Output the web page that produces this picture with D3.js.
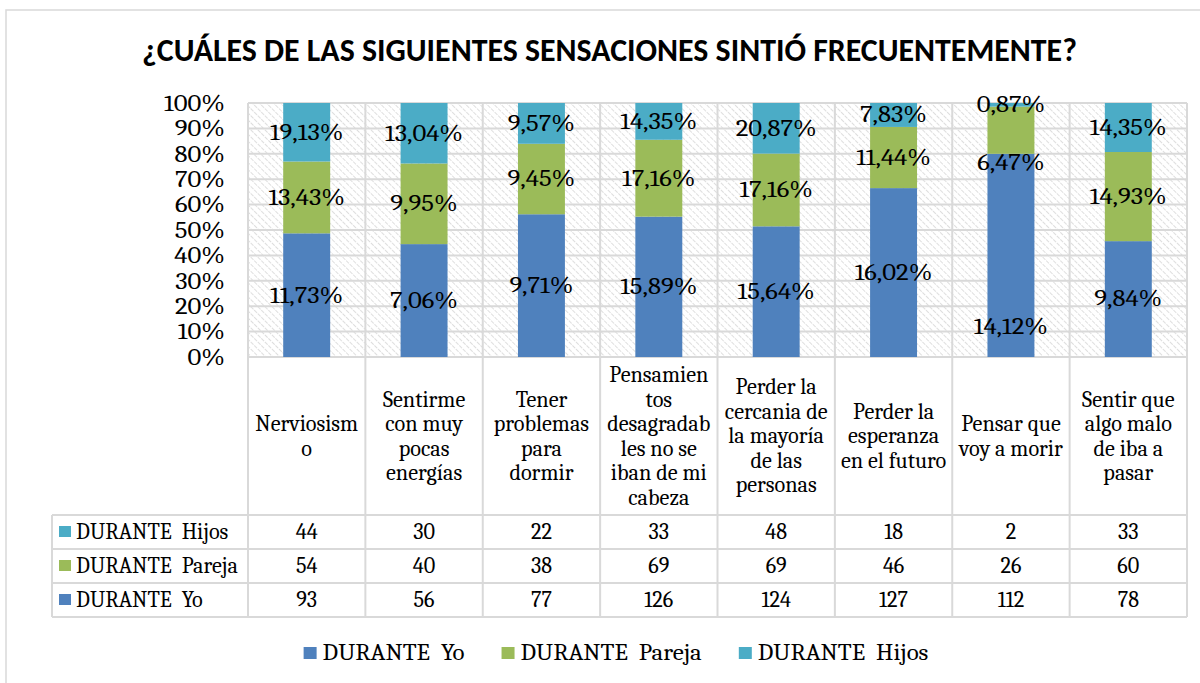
<!DOCTYPE html>
<html>
<head>
<meta charset="utf-8">
<script src="https://cdn.jsdelivr.net/npm/d3@7"></script>
<style>
  html, body { margin: 0; padding: 0; background: #fff; }
  svg { display: block; }
</style>
</head>
<body>
<svg id="chart" width="1200" height="683"></svg>
<script>
// ---------------- DATA ----------------
const title = "¿CUÁLES DE LAS SIGUIENTES SENSACIONES SINTIÓ FRECUENTEMENTE?";
const categories = [
  "Nerviosismo",
  "Sentirme con muy pocas energías",
  "Tener problemas para dormir",
  "Pensamientos desagradables no se iban de mi cabeza",
  "Perder la cercania de la mayoría de las personas",
  "Perder la esperanza en el futuro",
  "Pensar que voy a morir",
  "Sentir que algo malo de iba a pasar"
];
const categoryLines = [
  ["Nerviosism", "o"],
  ["Sentirme", "con muy", "pocas", "energías"],
  ["Tener", "problemas", "para", "dormir"],
  ["Pensamien", "tos", "desagradab", "les no se", "iban de mi", "cabeza"],
  ["Perder la", "cercania de", "la mayoría", "de las", "personas"],
  ["Perder la", "esperanza", "en el futuro"],
  ["Pensar que", "voy a morir"],
  ["Sentir que", "algo malo", "de iba a", "pasar"]
];
const seriesKeys = ["yo", "pareja", "hijos"];
const seriesNames = ["DURANTE  Yo", "DURANTE  Pareja", "DURANTE  Hijos"];
const yoValues     = [93, 56, 77, 126, 124, 127, 112, 78];
const parejaValues = [54, 40, 38, 69, 69, 46, 26, 60];
const hijosValues  = [44, 30, 22, 33, 48, 18, 2, 33];
const yoLabels     = ["11,73%", "7,06%", "9,71%", "15,89%", "15,64%", "16,02%", "14,12%", "9,84%"];
const parejaLabels = ["13,43%", "9,95%", "9,45%", "17,16%", "17,16%", "11,44%", "6,47%", "14,93%"];
const hijosLabels  = ["19,13%", "13,04%", "9,57%", "14,35%", "20,87%", "7,83%", "0,87%", "14,35%"];
const yTicks = [0, 0.1, 0.2, 0.3, 0.4, 0.5, 0.6, 0.7, 0.8, 0.9, 1];

// ---------------- STYLE / LAYOUT ----------------
const colors = { yo: "#4F81BD", pareja: "#9BBB59", hijos: "#4BACC6" };
const gridColor = "#d9d9d9";
const serif = "'Caladea', 'Liberation Serif', serif";
const titleFont = "'Carlito', 'Lato', sans-serif";
const plotLeft = 248, plotRight = 1187, plotTop = 103, plotBottom = 357;
const tableLeft = 52;
const rowTops = [515, 549, 583, 617];
// horizontal glyph stretch of the original rendering, per text type
const stretchPercent = 1.2, stretchLegend = 1.12;
// manually moved data labels (in value units) for one column, as in the original
const labelAnchorOverride = { 6: { yo: 0.12, pareja: 0.765 } };

// ---------------- BUILD ----------------
const svg = d3.select("#chart");

// calibrate serif font size so that "Nerviosism" is ~103px wide as in the original
let fontSize = 22;
{
  const probe = svg.append("text").attr("font-family", serif).attr("font-size", 22).text("Nerviosism");
  const w = probe.node().getComputedTextLength();
  probe.remove();
  if (w > 0) fontSize = Math.min(26, Math.max(18, 22 * 103 / w));
}
function stxt(sel) {
  return sel.attr("font-family", serif).attr("font-size", fontSize).attr("fill", "#000");
}
function stretch(sel, f) {
  sel.each(function () {
    const w = this.getComputedTextLength();
    if (w > 0) d3.select(this).attr("textLength", w * f).attr("lengthAdjust", "spacingAndGlyphs");
  });
  return sel;
}

const table = categories.map((c, i) => ({
  cat: c, yo: yoValues[i], pareja: parejaValues[i], hijos: hijosValues[i], idx: i
}));
const labelsBy = { yo: yoLabels, pareja: parejaLabels, hijos: hijosLabels };

const x = d3.scaleBand().domain(categories).range([plotLeft, plotRight])
  .paddingInner(0.6).paddingOuter(0.3);
const xCell = d3.scaleBand().domain(categories).range([plotLeft, plotRight]).padding(0);
const y = d3.scaleLinear().domain([0, 1]).range([plotBottom, plotTop]);

// outer chart border
svg.append("path")
  .attr("d", `M6,700 L6,10 L1210,10`)
  .attr("fill", "none").attr("stroke", gridColor).attr("stroke-width", 1.5);

// hatch pattern for plot area
const defs = svg.append("defs");
const pat = defs.append("pattern")
  .attr("id", "hatch").attr("patternUnits", "userSpaceOnUse")
  .attr("width", 5).attr("height", 5)
  .attr("patternTransform", "rotate(-45)");
pat.append("rect").attr("width", 5).attr("height", 5).attr("fill", "#fff");
pat.append("line").attr("x1", 0).attr("y1", 0).attr("x2", 0).attr("y2", 5)
  .attr("stroke", "#cdcdcd").attr("stroke-width", 1.3).attr("stroke-dasharray", "3,1");

svg.append("rect")
  .attr("x", plotLeft).attr("y", plotTop)
  .attr("width", plotRight - plotLeft).attr("height", plotBottom - plotTop)
  .attr("fill", "url(#hatch)");

// title
const titleText = svg.append("text")
  .attr("x", 609.5).attr("y", 61)
  .attr("text-anchor", "middle")
  .attr("font-family", titleFont)
  .attr("font-weight", 700)
  .attr("font-size", 28)
  .attr("fill", "#000")
  .text(title);
{
  const w = titleText.node().getComputedTextLength();
  if (w > 0) titleText.attr("font-size", 28 * 935 / w);
}

// horizontal gridlines
svg.append("g").selectAll("line").data(yTicks).join("line")
  .attr("x1", plotLeft).attr("x2", plotRight)
  .attr("y1", d => y(d)).attr("y2", d => y(d))
  .attr("stroke", gridColor).attr("stroke-width", 2);

// vertical gridlines through plot and table
const vBounds = categories.map(c => xCell(c)).concat([xCell(categories[categories.length - 1]) + xCell.bandwidth()]);
svg.append("g").selectAll("line").data(vBounds).join("line")
  .attr("x1", d => d).attr("x2", d => d)
  .attr("y1", plotTop).attr("y2", rowTops[3])
  .attr("stroke", gridColor).attr("stroke-width", 2);

// table row lines
svg.append("g").selectAll("line").data(rowTops).join("line")
  .attr("x1", tableLeft).attr("x2", plotRight)
  .attr("y1", d => d).attr("y2", d => d)
  .attr("stroke", gridColor).attr("stroke-width", 2);
svg.append("line")
  .attr("x1", tableLeft).attr("x2", tableLeft)
  .attr("y1", rowTops[0]).attr("y2", rowTops[3])
  .attr("stroke", gridColor).attr("stroke-width", 2);

// stacked bars
const stack = d3.stack().keys(seriesKeys).offset(d3.stackOffsetExpand);
const stacked = stack(table);
const layers = svg.append("g").selectAll("g").data(stacked).join("g")
  .attr("fill", d => colors[d.key]);
layers.selectAll("rect").data(d => d).join("rect")
  .attr("x", d => x(d.data.cat))
  .attr("width", x.bandwidth())
  .attr("y", d => y(d[1]))
  .attr("height", d => y(d[0]) - y(d[1]));

// data labels
const labelG = svg.append("g");
stacked.forEach(layer => {
  layer.forEach((d, i) => {
    const ov = labelAnchorOverride[i] && labelAnchorOverride[i][layer.key];
    const v = ov !== undefined ? ov : (d[0] + d[1]) / 2;
    const t = stxt(labelG.append("text"))
      .attr("x", x(d.data.cat) + x.bandwidth() / 2)
      .attr("y", y(v))
      .attr("dy", "0.33em")
      .attr("text-anchor", "middle")
      .text(labelsBy[layer.key][i]);
    stretch(t, stretchPercent);
  });
});

// y axis (tick labels only)
const yAxis = d3.axisLeft(y).tickValues(yTicks).tickFormat(d3.format(".0%")).tickSize(0).tickPadding(0);
const yg = svg.append("g").attr("transform", `translate(225,0)`).call(yAxis);
yg.select(".domain").remove();
yg.attr("font-family", serif).attr("font-size", fontSize);
yg.selectAll("text").call(stxt).attr("dy", "0.33em");
stretch(yg.selectAll("text"), stretchPercent);

// category labels in table header cells
const lineH = 24.5;
const catCenterY = (plotBottom + rowTops[0]) / 2;
const catG = svg.append("g");
categories.forEach((c, i) => {
  const lines = categoryLines[i];
  const cx = xCell(c) + xCell.bandwidth() / 2;
  const t = stxt(catG.append("text")).attr("x", cx).attr("text-anchor", "middle");
  lines.forEach((ln, j) => {
    t.append("tspan").attr("x", cx)
      .attr("y", catCenterY + (j - (lines.length - 1) / 2) * lineH)
      .attr("dy", "0.33em").text(ln);
  });
});

// table rows: Hijos, Pareja, Yo
const rowOrder = ["hijos", "pareja", "yo"];
const rowG = svg.append("g");
rowOrder.forEach((key, r) => {
  const cy = (rowTops[r] + rowTops[r + 1]) / 2;
  const si = seriesKeys.indexOf(key);
  rowG.append("rect").attr("x", 59).attr("y", cy - 6).attr("width", 12).attr("height", 11)
    .attr("fill", colors[key]);
  stxt(rowG.append("text")).attr("x", 76).attr("y", cy).attr("dy", "0.33em")
    .style("white-space", "pre").text(seriesNames[si]);
  table.forEach(d => {
    stxt(rowG.append("text"))
      .attr("x", xCell(d.cat) + xCell.bandwidth() / 2)
      .attr("y", cy).attr("dy", "0.33em")
      .attr("text-anchor", "middle")
      .text(d[key]);
  });
});

// bottom legend
const legY = 653;
const legG = svg.append("g");
const items = seriesKeys.map((k, i) => {
  const g = legG.append("g");
  g.append("rect").attr("x", 0).attr("y", legY - 6).attr("width", 13).attr("height", 12)
    .attr("fill", colors[k]);
  const t = stxt(g.append("text")).attr("x", 19).attr("y", legY).attr("dy", "0.33em")
    .style("white-space", "pre").text(seriesNames[i]);
  const w = t.node().getComputedTextLength();
  stretch(t, stretchLegend);
  return { g, w: 19 + w * stretchLegend };
});
const gap = 37;
const totalW = d3.sum(items, d => d.w) + gap * (items.length - 1);
let cx0 = 616 - totalW / 2;
items.forEach(it => {
  it.g.attr("transform", `translate(${cx0},0)`);
  cx0 += it.w + gap;
});
</script>
</body>
</html>
